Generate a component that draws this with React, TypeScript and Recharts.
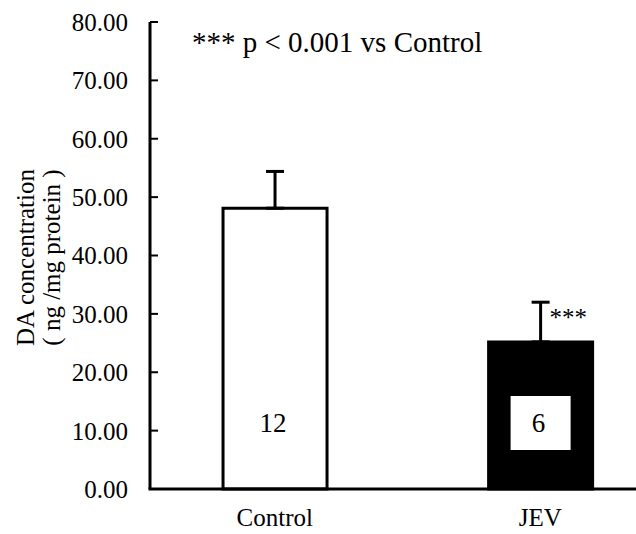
import { BarChart, Bar, XAxis, YAxis, ErrorBar, Cell, LabelList, ReferenceDot } from 'recharts';

// DA levels per group (mean, upper SEM), sample size written in the bar
const groups = ['Control', 'JEV'];
const means = [48.1, 25.2];
const sems = [6.3, 6.8];
const sampleSizes = [12, 6];
const marks = ['', '***'];
const barColors = ['#ffffff', '#000000'];
const yTicks = [0, 10, 20, 30, 40, 50, 60, 70, 80];

const FONT = '"Liberation Serif", "Times New Roman", serif';

const data = groups.map((group, i) => ({
  pos: i + 1,
  group,
  mean: means[i],
  err: [0, sems[i]],
  n: sampleSizes[i],
}));

// n inside the bar, on a white box so it also reads on the black bar
function CountLabel(props: any) {
  const { x, y, width, height, value } = props;
  const cx = x + width / 2;
  const cy = y + height - 66;
  return (
    <g>
      <rect x={cx - 30} y={cy - 27} width={60} height={54} fill="#ffffff" />
      <text x={cx - 2} y={cy} textAnchor="middle" dominantBaseline="central" fontFamily={FONT} fontSize={27} fill="#000">
        {value}
      </text>
    </g>
  );
}

function AxisTitle(props: any) {
  const vb = props.viewBox;
  const cy = vb.y + vb.height / 2 + 2;
  return (
    <g fontFamily={FONT} fontSize={25} fill="#000">
      <text transform={`translate(34, ${cy}) rotate(-90)`} textAnchor="middle">DA concentration</text>
      <text transform={`translate(60, ${cy}) rotate(-90)`} textAnchor="middle">( ng /mg protein )</text>
    </g>
  );
}

function StarLabel(props: any) {
  const { viewBox, text } = props;
  return (
    <text x={viewBox.x + 9} y={viewBox.y + 24} fontFamily={FONT} fontSize={25} fill="#000">
      {text}
    </text>
  );
}

export default function App() {
  return (
    <div style={{ position: 'absolute', top: 0, left: 0, background: '#fff' }}>
      <BarChart width={636} height={534} data={data} margin={{ top: 22, right: 0, bottom: 0, left: 0 }}>
        <XAxis
          type="number"
          dataKey="pos"
          domain={[0.53, 2.36]}
          allowDataOverflow
          ticks={[1, 2]}
          tickFormatter={(v: number) => groups[v - 1]}
          height={45}
          tickSize={0}
          tickMargin={19}
          tickLine={false}
          axisLine={{ stroke: '#000', strokeWidth: 3, strokeLinecap: 'square' }}
          tick={{ fill: '#000', fontFamily: FONT, fontSize: 25 }}
        />
        <YAxis
          domain={[0, 80]}
          ticks={yTicks}
          width={150}
          tickFormatter={(v: number) => v.toFixed(2)}
          tickSize={-8}
          tickMargin={30}
          axisLine={{ stroke: '#000', strokeWidth: 3 }}
          tickLine={{ stroke: '#000', strokeWidth: 2 }}
          tick={{ fill: '#000', fontFamily: FONT, fontSize: 25 }}
          label={{ content: (p: any) => <AxisTitle {...p} /> }}
        />
        <Bar dataKey="mean" barSize={104} stroke="#000" strokeWidth={3} isAnimationActive={false}>
          {data.map((d, i) => (
            <Cell key={d.group} fill={barColors[i]} />
          ))}
          <ErrorBar dataKey="err" width={9} stroke="#000" strokeWidth={3} isAnimationActive={false} />
          <LabelList dataKey="n" content={(p: any) => <CountLabel {...p} />} />
        </Bar>
        {data.map((d, i) =>
          marks[i] ? (
            <ReferenceDot
              key={d.group}
              x={d.pos}
              y={d.mean + sems[i]}
              r={0}
              fill="none"
              stroke="none"
              label={{ content: (p: any) => <StarLabel {...p} text={marks[i]} /> }}
            />
          ) : null
        )}
        <text x={192} y={52} fontFamily={FONT} fontSize={29} fill="#000">
          *** p &lt; 0.001 vs Control
        </text>
      </BarChart>
    </div>
  );
}
